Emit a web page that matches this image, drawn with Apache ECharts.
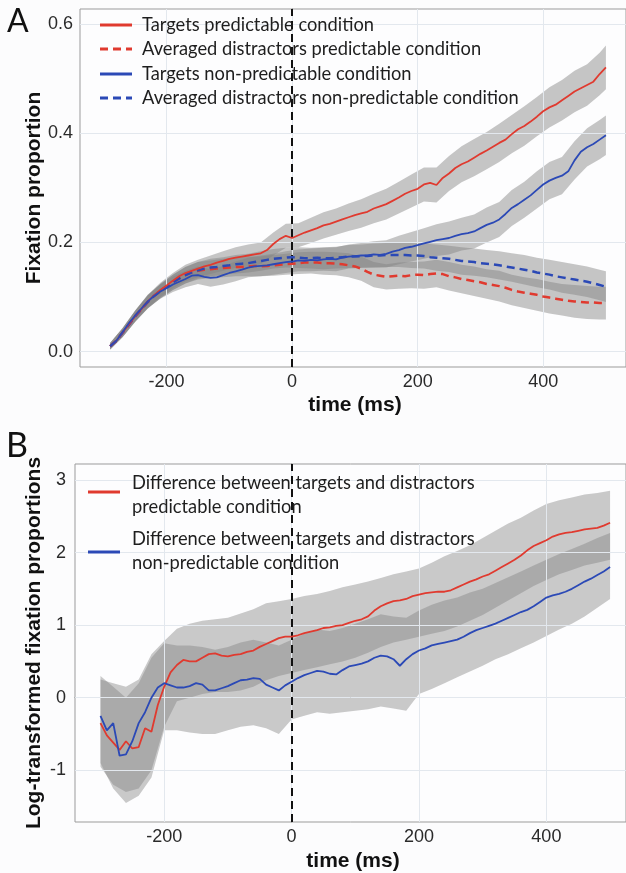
<!DOCTYPE html>
<html><head><meta charset="utf-8">
<script src="https://cdn.jsdelivr.net/npm/echarts@6/dist/echarts.min.js"></script>
<style>html,body{margin:0;padding:0;background:#fcfcfd}#c{width:626px;height:873px}</style>
</head><body><div id="c"></div>
<script>
// ---------- Panel A data ----------
const timeA = [-290,-280,-270,-260,-250,-240,-230,-220,-210,-200,-190,-180,-170,-160,-150,-140,-130,-120,-110,-100,-90,-80,-70,-60,-50,-40,-30,-20,-10,0,10,20,30,40,50,60,70,80,90,100,110,120,130,140,150,160,170,180,190,200,210,220,230,240,250,260,270,280,290,300,310,320,330,340,350,360,370,380,390,400,410,420,430,440,450,460,470,480,490,500];
const targetsPred = [0.01,0.02,0.035,0.05,0.065,0.078,0.092,0.103,0.113,0.121,
0.13,0.138,0.144,0.148,0.152,0.156,0.159,0.163,0.166,0.17,
0.172,0.174,0.176,0.178,0.18,0.186,0.197,0.206,0.212,0.208,
0.213,0.218,0.222,0.226,0.231,0.234,0.238,0.242,0.246,0.25,
0.253,0.256,0.262,0.266,0.27,0.276,0.282,0.289,0.294,0.298,
0.306,0.309,0.305,0.318,0.326,0.336,0.343,0.348,0.355,0.362,
0.368,0.375,0.382,0.388,0.398,0.407,0.413,0.421,0.43,0.44,
0.447,0.452,0.46,0.468,0.476,0.482,0.488,0.494,0.508,0.52];
const targetsNonPred = [0.01,0.02,0.036,0.052,0.066,0.079,0.092,0.102,0.11,0.116,
0.123,0.128,0.133,0.139,0.14,0.137,0.135,0.136,0.14,0.144,
0.147,0.15,0.154,0.156,0.157,0.158,0.16,0.162,0.164,0.165,
0.167,0.166,0.168,0.167,0.169,0.17,0.169,0.172,0.174,0.175,
0.176,0.176,0.178,0.177,0.179,0.183,0.186,0.19,0.192,0.195,
0.198,0.201,0.204,0.206,0.208,0.212,0.215,0.217,0.22,0.226,
0.232,0.236,0.242,0.252,0.263,0.27,0.278,0.286,0.296,0.306,
0.313,0.318,0.322,0.33,0.35,0.366,0.374,0.38,0.388,0.396];
const distrPred = [0.01,0.02,0.035,0.05,0.065,0.078,0.091,0.102,0.111,0.119,
0.127,0.134,0.14,0.145,0.148,0.15,0.151,0.152,0.153,0.154,
0.155,0.155,0.156,0.157,0.156,0.157,0.158,0.159,0.16,0.161,
0.162,0.163,0.163,0.163,0.162,0.162,0.161,0.16,0.158,0.156,
0.152,0.146,0.141,0.139,0.137,0.138,0.139,0.138,0.14,0.141,
0.14,0.142,0.143,0.142,0.138,0.136,0.133,0.131,0.129,0.127,
0.124,0.122,0.12,0.117,0.113,0.11,0.108,0.106,0.104,0.101,
0.099,0.097,0.095,0.093,0.092,0.091,0.09,0.09,0.089,0.089];
const distrNonPred = [0.01,0.02,0.035,0.05,0.065,0.078,0.091,0.102,0.111,0.119,
0.127,0.134,0.14,0.145,0.149,0.152,0.154,0.155,0.157,0.158,
0.16,0.161,0.162,0.164,0.166,0.168,0.17,0.171,0.172,0.173,
0.172,0.171,0.171,0.172,0.171,0.171,0.172,0.173,0.174,0.174,
0.175,0.175,0.176,0.176,0.177,0.177,0.177,0.177,0.176,0.176,
0.175,0.173,0.172,0.171,0.17,0.168,0.166,0.165,0.164,0.162,
0.161,0.16,0.158,0.156,0.154,0.152,0.15,0.148,0.145,0.143,
0.141,0.138,0.136,0.134,0.132,0.13,0.128,0.125,0.122,0.119];
// confidence band half-widths (panel A)
const bandTimeA = [-290,-270,-250,-230,-210,-190,-170,-150,-130,-110,-90,-70,-50,-30,-10,10,30,50,70,90,110,130,150,170,190,210,230,250,270,290,310,330,350,370,390,410,430,450,470,490,500];
const targetsPredHalf = [.006,.008,.01,.012,.013,.014,.015,.016,.017,.018,.019,.02,.02,.021,.022,.022,.023,.024,.024,.025,.026,.027,.028,.029,.03,.031,.032,.032,.033,.034,.034,.035,.035,.036,.036,.037,.037,.038,.038,.039,.04];
const targetsNonPredHalf = [.006,.008,.01,.012,.013,.014,.015,.016,.016,.017,.018,.018,.019,.019,.02,.02,.021,.021,.022,.022,.023,.024,.025,.026,.027,.028,.029,.03,.03,.031,.032,.032,.033,.033,.034,.034,.034,.035,.035,.036,.036];
const distrPredHalf = [.006,.008,.01,.012,.013,.014,.015,.016,.016,.017,.017,.018,.018,.019,.019,.02,.02,.021,.021,.022,.022,.023,.023,.024,.024,.025,.025,.026,.026,.027,.027,.028,.028,.028,.029,.029,.029,.03,.03,.03,.03];
const distrNonPredHalf = [.006,.008,.01,.012,.013,.014,.015,.015,.016,.016,.017,.017,.018,.018,.018,.019,.019,.02,.02,.021,.021,.022,.022,.022,.023,.023,.024,.024,.025,.025,.025,.026,.026,.027,.027,.027,.028,.028,.028,.028,.028];
const xTicks = [-200,0,200,400];
const yTicksA = [0,0.2,0.4,0.6];

// ---------- Panel B data ----------
const timeB = [-300,-290,-280,-270,-260,-250,-240,-230,-220,-210,-200,-190,-180,-170,-160,-150,-140,-130,-120,-110,-100,-90,-80,-70,-60,-50,-40,-30,-20,-10,0,10,20,30,40,50,60,70,80,90,100,110,120,130,140,150,160,170,180,190,200,210,220,230,240,250,260,270,280,290,300,310,320,330,340,350,360,370,380,390,400,410,420,430,440,450,460,470,480,490,500];
const diffPred = [-0.35,-0.52,-0.62,-0.72,-0.6,-0.7,-0.68,-0.42,-0.47,-0.1,
0.15,0.35,0.45,0.52,0.5,0.5,0.55,0.6,0.61,0.58,
0.57,0.59,0.6,0.63,0.65,0.7,0.74,0.78,0.82,0.84,
0.84,0.86,0.89,0.91,0.93,0.96,0.97,0.99,1.0,1.03,
1.06,1.08,1.12,1.2,1.26,1.3,1.33,1.34,1.36,1.4,
1.42,1.44,1.45,1.46,1.46,1.48,1.52,1.56,1.6,1.63,
1.67,1.7,1.75,1.8,1.85,1.9,1.96,2.03,2.09,2.13,
2.17,2.22,2.25,2.27,2.28,2.3,2.32,2.33,2.34,2.37,
2.41];
const diffNonPred = [-0.25,-0.45,-0.35,-0.8,-0.78,-0.6,-0.35,-0.2,0.0,0.14,
0.2,0.17,0.14,0.14,0.16,0.2,0.18,0.1,0.1,0.13,
0.16,0.2,0.24,0.25,0.27,0.26,0.18,0.14,0.1,0.17,
0.22,0.27,0.31,0.34,0.37,0.36,0.33,0.32,0.38,0.43,
0.45,0.47,0.5,0.55,0.58,0.57,0.53,0.44,0.53,0.6,
0.65,0.68,0.72,0.74,0.76,0.78,0.8,0.84,0.89,0.93,
0.96,0.99,1.02,1.06,1.1,1.14,1.18,1.21,1.26,1.32,
1.38,1.41,1.43,1.46,1.5,1.55,1.6,1.64,1.69,1.74,
1.8];
const bandTimeB = [-300,-280,-260,-240,-220,-200,-180,-160,-140,-120,-100,-80,-60,-40,-20,0,20,40,60,80,100,120,140,160,180,200,220,240,260,280,300,320,340,360,380,400,420,440,460,480,500];
const diffPredUpper = [0.25,0.2,0.15,0.25,0.6,0.78,0.95,1.02,1.06,1.08,1.1,1.16,1.22,1.3,1.33,1.36,1.4,1.43,1.47,1.52,1.56,1.6,1.65,1.7,1.74,1.78,1.86,1.95,2.02,2.1,2.2,2.3,2.4,2.48,2.58,2.67,2.72,2.76,2.8,2.82,2.85];
const diffPredLower = [-0.95,-1.2,-1.3,-1.25,-1.0,-0.4,-0.05,0.0,0.05,0.08,0.08,0.1,0.15,0.24,0.3,0.34,0.38,0.42,0.46,0.5,0.55,0.62,0.7,0.76,0.8,0.84,0.88,0.92,0.98,1.06,1.14,1.24,1.34,1.44,1.54,1.62,1.7,1.76,1.82,1.86,1.9];
const diffNonPredUpper = [0.3,0.15,0.0,0.2,0.55,0.75,0.72,0.72,0.7,0.66,0.7,0.76,0.8,0.76,0.72,0.8,0.88,0.94,0.92,0.96,1.02,1.08,1.15,1.12,1.1,1.2,1.28,1.34,1.38,1.45,1.5,1.58,1.66,1.74,1.82,1.9,1.98,2.05,2.12,2.2,2.27];
const diffNonPredLower = [-0.9,-1.25,-1.45,-1.35,-1.1,-0.45,-0.45,-0.48,-0.5,-0.5,-0.45,-0.4,-0.38,-0.42,-0.5,-0.3,-0.25,-0.2,-0.22,-0.2,-0.18,-0.16,-0.12,-0.15,-0.18,0.05,0.12,0.2,0.28,0.36,0.44,0.53,0.6,0.68,0.76,0.85,0.94,1.02,1.12,1.24,1.36];
const yTicksB = [-1,0,1,2,3];

// ---------- styling ----------
const RED = '#e03a2f', BLUE = '#2b49b6';
const GRIDC = '#e3e8ee';
const TICKFONT = 'Liberation Sans, Arial, sans-serif';

function pairs(t, v) { return t.map((x, i) => [x, v[i]]); }
function centerAt(times, vals, t) { return vals[times.indexOf(t)]; }

function band(idx, times, lower, upper, color) {
  return {type:'custom', xAxisIndex:idx, yAxisIndex:idx, silent:true, animation:false, z:2, clip:true,
    data:[[times[0], lower[0]]],
    renderItem: function(params, api) {
      const pts = [];
      for (let i = 0; i < times.length; i++) pts.push(api.coord([times[i], upper[i]]));
      for (let i = times.length - 1; i >= 0; i--) pts.push(api.coord([times[i], lower[i]]));
      return {type:'polygon', shape:{points:pts}, style:{fill:color}};
    }};
}
function bandA(center, half) {
  const lo = bandTimeA.map((t,i)=> centerAt(timeA, center, t) - half[i]);
  const up = bandTimeA.map((t,i)=> centerAt(timeA, center, t) + half[i]);
  return band(0, bandTimeA, lo, up, 'rgba(128,128,128,0.45)');
}
function gridLines(idx, xs, ys) {
  return {type:'line', xAxisIndex:idx, yAxisIndex:idx, data:[], silent:true, z:1,
    markLine:{silent:true, symbol:['none','none'], label:{show:false}, animation:false,
      lineStyle:{color:GRIDC, width:1, type:'solid'},
      data: xs.map(v=>({xAxis:v})).concat(ys.map(v=>({yAxis:v})))}};
}
function zeroLine(idx) {
  return {type:'line', xAxisIndex:idx, yAxisIndex:idx, data:[], silent:true, z:10,
    markLine:{silent:true, symbol:['none','none'], label:{show:false}, animation:false,
      lineStyle:{color:'#111', width:2, type:[8,5]}, data:[{xAxis:0}]}};
}
function line(idx, times, vals, color, dashed, w) {
  return {type:'line', xAxisIndex:idx, yAxisIndex:idx, data:pairs(times, vals), symbol:'none',
    silent:true, animation:false, z:5,
    lineStyle:{color:color, width:w, type: dashed ? [8,5] : 'solid'}};
}
function xAxisCfg(idx, min, max) {
  return {gridIndex:idx, type:'value', min:min, max:max,
    axisLine:{show:true, lineStyle:{color:'#8c8c8c', width:1}},
    axisTick:{show:true, length:4, customValues:xTicks, lineStyle:{color:'#555'}},
    axisLabel:{customValues:xTicks, fontSize:18, color:'#2a2a2a', margin:6, fontFamily:TICKFONT},
    splitLine:{show:false}};
}
function yAxisCfg(idx, min, max, ticks, fmt, margin) {
  return {gridIndex:idx, type:'value', min:min, max:max,
    axisLine:{show:true, lineStyle:{color:'#8c8c8c', width:1}},
    axisTick:{show:true, length:4, customValues:ticks, lineStyle:{color:'#555'}},
    axisLabel:{customValues:ticks, fontSize:18, color:'#2a2a2a', margin:margin, fontFamily:TICKFONT, formatter:fmt},
    splitLine:{show:false}};
}

const LEGFONT = '18.3px Lato, "Noto Sans", sans-serif';
function legLine(x1, y, color, dashed) {
  return {type:'line', shape:{x1:x1, y1:y, x2:x1+32, y2:y},
    style:{stroke:color, lineWidth:3, lineDash: dashed ? [8,5] : null}, z:100};
}
function legText(x, y, txt, lh) {
  return {type:'text', x:x, y:y, z:100,
    style:{text:txt, font:LEGFONT, fill:'#1e1e1e', align:'left', verticalAlign:'middle', lineHeight:lh||24}};
}

const chart = echarts.init(document.getElementById('c'), null, {renderer:'canvas'});
chart.setOption({
  backgroundColor:'#fcfcfd',
  animation:false,
  grid:[
    {left:80, top:9, right:-1, bottom:506, show:true, borderColor:'#9b9b9b', borderWidth:1, backgroundColor:'#fdfdfe'},
    {left:75, top:464, right:-1, bottom:51, show:true, borderColor:'#9b9b9b', borderWidth:1, backgroundColor:'#fdfdfe'}
  ],
  xAxis:[xAxisCfg(0, -338, 532), xAxisCfg(1, -340, 525)],
  yAxis:[yAxisCfg(0, -0.028, 0.627, yTicksA, v=>v.toFixed(1), 7),
         yAxisCfg(1, -1.713, 3.22, yTicksB, v=>String(v), 9)],
  series:[
    gridLines(0, xTicks, yTicksA),
    bandA(targetsPred, targetsPredHalf),
    bandA(distrPred, distrPredHalf),
    bandA(targetsNonPred, targetsNonPredHalf),
    bandA(distrNonPred, distrNonPredHalf),
    line(0, timeA, distrPred, RED, true, 2.5),
    line(0, timeA, distrNonPred, BLUE, true, 2.5),
    line(0, timeA, targetsPred, RED, false, 1.8),
    line(0, timeA, targetsNonPred, BLUE, false, 1.8),
    zeroLine(0),
    gridLines(1, xTicks, yTicksB),
    band(1, bandTimeB, diffPredLower, diffPredUpper, 'rgba(128,128,128,0.42)'),
    band(1, bandTimeB, diffNonPredLower, diffNonPredUpper, 'rgba(128,128,128,0.42)'),
    line(1, timeB, diffPred, RED, false, 1.8),
    line(1, timeB, diffNonPred, BLUE, false, 1.8),
    zeroLine(1)
  ],
  graphic:[
    {type:'text', x:7, y:22, style:{text:'A', font:'32px Lato, "Noto Sans", sans-serif', fill:'#111', verticalAlign:'middle'}},
    {type:'text', x:6, y:446, style:{text:'B', font:'34px Lato, "Noto Sans", sans-serif', fill:'#111', verticalAlign:'middle'}},
    {type:'text', x:34, y:188, rotation:Math.PI/2,
      style:{text:'Fixation proportion', font:'bold 21px Liberation Sans, Arial, sans-serif', fill:'#111', align:'center', verticalAlign:'middle'}},
    {type:'text', x:34, y:643, rotation:Math.PI/2,
      style:{text:'Log-transformed fixation proportions', font:'bold 21px Liberation Sans, Arial, sans-serif', fill:'#111', align:'center', verticalAlign:'middle'}},
    {type:'text', x:355, y:405, style:{text:'time (ms)', font:'bold 21px Liberation Sans, Arial, sans-serif', fill:'#111', align:'center', verticalAlign:'middle'}},
    {type:'text', x:353, y:861, style:{text:'time (ms)', font:'bold 21px Liberation Sans, Arial, sans-serif', fill:'#111', align:'center', verticalAlign:'middle'}},
    legLine(100, 25, RED, false), legText(142, 25, 'Targets predictable condition'),
    legLine(100, 49, RED, true), legText(142, 49, 'Averaged distractors predictable condition'),
    legLine(100, 74, BLUE, false), legText(142, 74, 'Targets non-predictable condition'),
    legLine(100, 98, BLUE, true), legText(142, 98, 'Averaged distractors non-predictable condition'),
    legLine(88, 492, RED, false), legText(132, 495, 'Difference between targets and distractors\npredictable condition', 24),
    legLine(88, 552, BLUE, false), legText(132, 551, 'Difference between targets and distractors\nnon-predictable condition', 24)
  ]
});
</script></body></html>
